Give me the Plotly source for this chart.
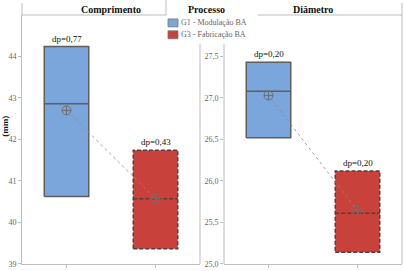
import plotly.graph_objects as go

groups = ["G1 - Modulação BA", "G3 - Fabricação BA"]
panels = ["Comprimento", "Diâmetro"]
legend_title = "Processo"

comp_q1 = [40.62, 39.36]
comp_med = [42.86, 40.57]
comp_q3 = [44.24, 41.74]
comp_mean = [42.70, 40.57]
comp_sd = ["dp=0,77", "dp=0,43"]

diam_q1 = [26.52, 25.14]
diam_med = [27.08, 25.61]
diam_q3 = [27.43, 26.12]
diam_mean = [27.03, 25.64]
diam_sd = ["dp=0,20", "dp=0,20"]

comp_ticks = [39, 40, 41, 42, 43, 44]
comp_ticktext = ["39", "40", "41", "42", "43", "44"]
diam_ticks = [25.0, 25.5, 26.0, 26.5, 27.0, 27.5]
diam_ticktext = ["25,0", "25,5", "26,0", "26,5", "27,0", "27,5"]

fills = ["#7BA6DB", "#C9413B"]
edges = ["#5E5E5E", "#5A3A3A"]
dashes = ["solid", "4px,2px"]
FONT = "Liberation Serif"
LINE = "#BDBDBD"

W, H = 404, 271
ML, MR, MT, MB = 22, 2, 15, 4
PW, PH = W - ML - MR, H - MT - MB


def px(xp):
    return (xp - ML) / PW


def py(yp):
    return (H - MB - yp) / PH


fig = go.Figure()
bw = 0.25
datasets = [
    (comp_q1, comp_med, comp_q3, comp_mean, comp_sd, "x", "y"),
    (diam_q1, diam_med, diam_q3, diam_mean, diam_sd, "x2", "y2"),
]
for q1s, meds, q3s, means, sds, xa, ya in datasets:
    for i in range(len(groups)):
        fig.add_trace(go.Scatter(
            x=[i - bw, i + bw, i + bw, i - bw, i - bw],
            y=[q1s[i], q1s[i], q3s[i], q3s[i], q1s[i]],
            fill="toself", fillcolor=fills[i], mode="lines",
            line=dict(color=edges[i], width=1.5, dash=dashes[i]),
            xaxis=xa, yaxis=ya, showlegend=False, hoverinfo="skip"))
        fig.add_trace(go.Scatter(
            x=[i - bw, i + bw], y=[meds[i], meds[i]], mode="lines",
            line=dict(color=edges[i], width=1.5, dash=dashes[i]),
            xaxis=xa, yaxis=ya, showlegend=False, hoverinfo="skip"))
        fig.add_annotation(x=i, y=q3s[i], xref=xa, yref=ya, text=sds[i],
                           showarrow=False, yanchor="bottom", yshift=1,
                           font=dict(family=FONT, size=9, color="#111"))
    fig.add_trace(go.Scatter(
        x=list(range(len(groups))), y=means, mode="lines+markers",
        line=dict(color="#8a8a8a", width=0.8, dash="dot"),
        marker=dict(symbol="circle-cross-open", size=9, color="#6e6e6e",
                    line=dict(width=1)),
        xaxis=xa, yaxis=ya, showlegend=False, hoverinfo="skip"))

axis_common = dict(showgrid=False, zeroline=False, mirror=False,
                   linecolor=LINE, linewidth=1, ticks="outside",
                   ticklen=3, tickcolor=LINE)
d1 = [0, px(200)]
d2 = [px(224), 1]
fig.update_layout(
    width=W, height=H, margin=dict(l=ML, r=MR, t=MT, b=MB),
    paper_bgcolor="white", plot_bgcolor="white",
    xaxis=dict(domain=d1, range=[-0.5, 1.5], tickvals=[0, 1], showline=True,
               showticklabels=False, anchor="y", **axis_common),
    xaxis2=dict(domain=d2, range=[-0.5, 1.5], tickvals=[0, 1], showline=True,
                showticklabels=False, anchor="y2", **axis_common),
    yaxis=dict(range=[38.995, 45], tickvals=comp_ticks, ticktext=comp_ticktext,
               anchor="x", ticklabeloverflow="allow", showline=True,
               tickfont=dict(family=FONT, size=8, color="#666"),
               **axis_common),
    yaxis2=dict(range=[24.9975, 28], tickvals=diam_ticks, ticktext=diam_ticktext,
                anchor="x2", ticklabeloverflow="allow", showline=False,
                tickfont=dict(family=FONT, size=8, color="#666"),
                **axis_common),
    showlegend=False,
)


def seg(x0, y0, x1, y1):
    return dict(type="line", xref="paper", yref="paper", x0=px(x0),
                x1=px(x1), y0=py(y0), y1=py(y1),
                line=dict(color=LINE, width=1))


shapes = [
    seg(22, 3, 22, 15),      # left panel: strip left edge
    seg(22, 15, 166, 15),    # left panel: header line
    seg(200, 44, 200, 267),  # left panel: right border
    seg(166, 0, 166, 15),    # legend left edge
    seg(224, 44, 224, 267),  # right panel: left axis line below legend
    seg(258, 15, 402, 15),   # right panel: header line
    seg(402, 3, 402, 267),   # right panel: right border
]
for i, yy in enumerate([23, 35]):
    shapes.append(dict(type="rect", xref="paper", yref="paper",
                       x0=px(168), x1=px(178), y0=py(yy + 4), y1=py(yy - 4),
                       fillcolor=fills[i], line=dict(color="#777", width=0.8)))
fig.update_layout(shapes=shapes)

fig.add_annotation(x=(d1[0] + d1[1]) / 2, y=1, yshift=6, xref="paper",
                   yref="paper", text="<b>" + panels[0] + "</b>",
                   showarrow=False, yanchor="middle", xanchor="center",
                   font=dict(family=FONT, size=10, color="#111"))
fig.add_annotation(x=(d2[0] + d2[1]) / 2, y=1, yshift=6, xref="paper",
                   yref="paper", text="<b>" + panels[1] + "</b>",
                   showarrow=False, yanchor="middle", xanchor="center",
                   font=dict(family=FONT, size=10, color="#111"))
fig.add_annotation(x=px(187), y=py(16), xref="paper", yref="paper",
                   text="<b>" + legend_title + "</b>", showarrow=False,
                   xanchor="left", yanchor="bottom", borderpad=0,
                   font=dict(family=FONT, size=10, color="#111"))
for i, yy in enumerate([23, 35]):
    fig.add_annotation(x=px(180), y=py(yy), xref="paper",
                       yref="paper", text=groups[i], showarrow=False,
                       xanchor="left", yanchor="middle", borderpad=0,
                       font=dict(family=FONT, size=8, color="#666"))
fig.add_annotation(x=px(5), y=py(128), xref="paper", yref="paper",
                   text="<b>(mm)</b>", showarrow=False, textangle=-90,
                   xanchor="center", yanchor="middle",
                   font=dict(family=FONT, size=9, color="#111"))

fig.write_html("out.html")
